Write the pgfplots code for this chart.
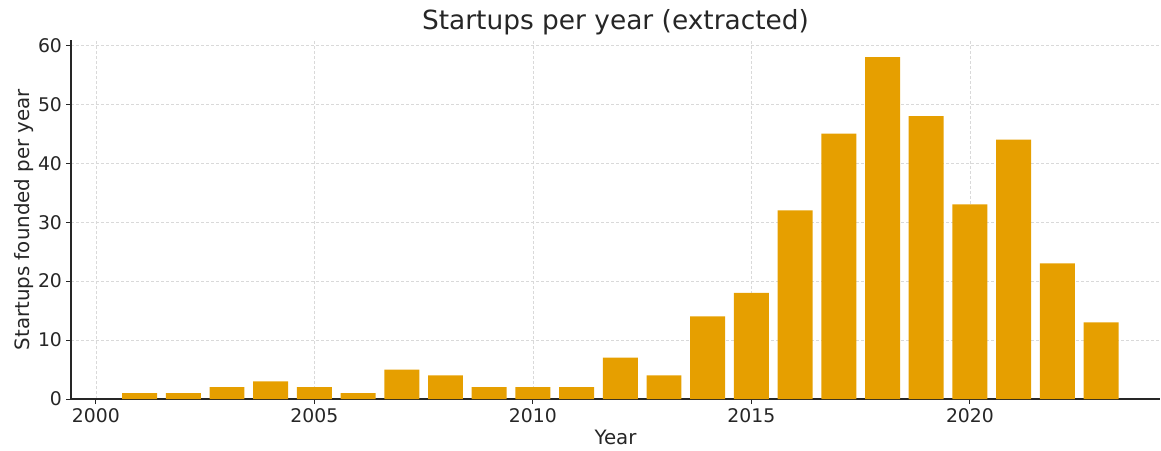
\documentclass[border=0pt]{standalone}
\usepackage{pgfplots}
\pgfplotsset{compat=1.18}
\usepackage{fontspec}
\setmainfont{DejaVu Sans}
\definecolor{barc}{HTML}{E69F00}
\definecolor{txt}{HTML}{262626}
\begin{document}
\begin{tikzpicture}[x=1pt,y=1pt]
\useasboundingbox (-35.5pt,-25.5pt) rectangle (545pt,199.5pt);
\begin{axis}[
  at={(0,0)}, anchor=south west,
  scale only axis,
  width=544.5pt, height=179.5pt,
  xmin=1999.43, xmax=2024.35,
  ymin=0, ymax=60.9,
  axis x line*=bottom, axis y line*=left,
  axis line style={txt, line width=0.6pt},
  xtick={2000,2005,2010,2015,2020},
  ytick={0,10,20,30,40,50,60},
  tick align=outside,
  major tick length=2.5pt,
  tick style={txt, line width=0.5pt},
  xticklabel style={/pgf/number format/1000 sep={}, yshift=1.5pt},
  yticklabel style={xshift=1.5pt},
  /pgf/number format/assume math mode=true,
  ticklabel style={font=\fontsize{9.4}{11}\selectfont, text=txt},
  grid=major,
  grid style={dash pattern=on 1.5pt off 1pt, gray!30, line width=0.4pt},
  xlabel={Year}, ylabel={Startups founded per year},
  label style={font=\fontsize{9.9}{11}\selectfont, text=txt},
  xlabel style={yshift=3pt},
  ylabel style={yshift=-4.5pt},
  title={Startups per year (extracted)},
  title style={font=\fontsize{13.2}{15}\selectfont, text=txt, anchor=center, at={(0.5,1)}, yshift=3pt},
  clip=false,
]
\addplot[ybar, bar width=0.8, bar shift=0pt, fill=barc, draw=none] coordinates {
(2001,1) (2002,1) (2003,2) (2004,3) (2005,2) (2006,1) (2007,5) (2008,4)
(2009,2) (2010,2) (2011,2) (2012,7) (2013,4) (2014,14) (2015,18) (2016,32)
(2017,45) (2018,58) (2019,48) (2020,33) (2021,44) (2022,23) (2023,13)
};
\end{axis}
\end{tikzpicture}
\end{document}
